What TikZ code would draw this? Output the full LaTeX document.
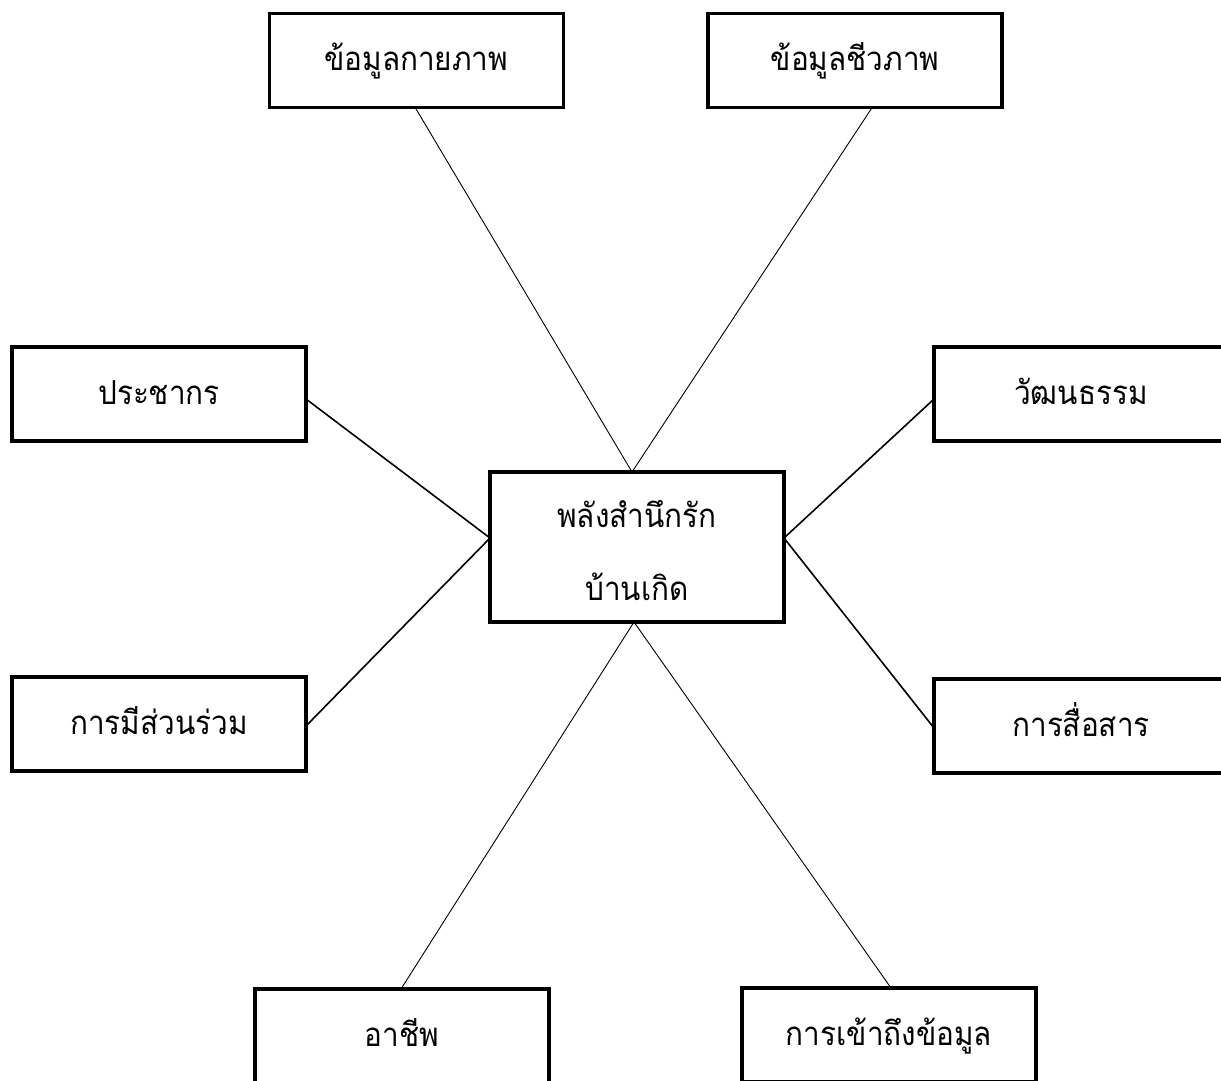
\documentclass[tikz,border=0pt]{standalone}
\usepackage{fontspec}
\newfontfamily\thaifont[Script=Thai,FakeStretch=0.9]{Loma}
\tikzset{
  box/.style={draw=black,line width=3.4pt,fill=white,minimum width=294pt,minimum height=94pt,inner sep=0pt,outer sep=0pt,font=\thaifont\fontsize{33pt}{73.5pt}\selectfont,align=center,anchor=north west,text height=29pt,text depth=9pt},
  thin link/.style={draw=black,line width=0.9pt},
  thick link/.style={draw=black,line width=1.6pt}
}
\begin{document}
\begin{tikzpicture}[x=1pt,y=-1pt]
\path[use as bounding box] (0,0) rectangle (1221,1080);
\clip (0,0) rectangle (1221,1080);
\fill[white] (0,0) rectangle (1221,1080);
\node[box] (tl) at (269.3,13.7) {ข้อมูลกายภาพ};
\node[box] (tr) at (708,13.7) {ข้อมูลชีวภาพ};
\node[box] (l1) at (12,347) {ประชากร};
\node[box] (r1) at (934,347) {วัฒนธรรม};
\node[box] (c) at (490,472) [minimum height=150pt,text height=111pt,text depth=4pt] {พลังสำนึกรัก\\บ้านเกิด};
\node[box] (l2) at (12,677) {การมีส่วนร่วม};
\node[box] (r2) at (934,679) {การสื่อสาร};
\node[box] (bl) at (255,989) {อาชีพ};
\node[box] (br) at (742,988) {การเข้าถึงข้อมูล};
\draw[thin link] ([xshift=-5pt]c.north) -- ([xshift=-1pt]tl.south);
\draw[thin link] ([xshift=-5pt]c.north) -- ([xshift=17pt]tr.south);
\draw[thick link] ([yshift=9pt]c.west) -- ([yshift=-5pt]l1.east);
\draw[thick link] ([yshift=9pt]c.west) -- ([yshift=-2pt]l2.east);
\draw[thick link] ([yshift=9pt]c.east) -- ([yshift=-5pt]r1.west);
\draw[thick link] ([yshift=9pt]c.east) -- ([yshift=-2pt]r2.west);
\draw[thin link] ([xshift=-3pt]c.south) -- ([xshift=-1pt]bl.north);
\draw[thin link] ([xshift=-3pt]c.south) -- ([xshift=2pt]br.north);
\end{tikzpicture}
\end{document}
